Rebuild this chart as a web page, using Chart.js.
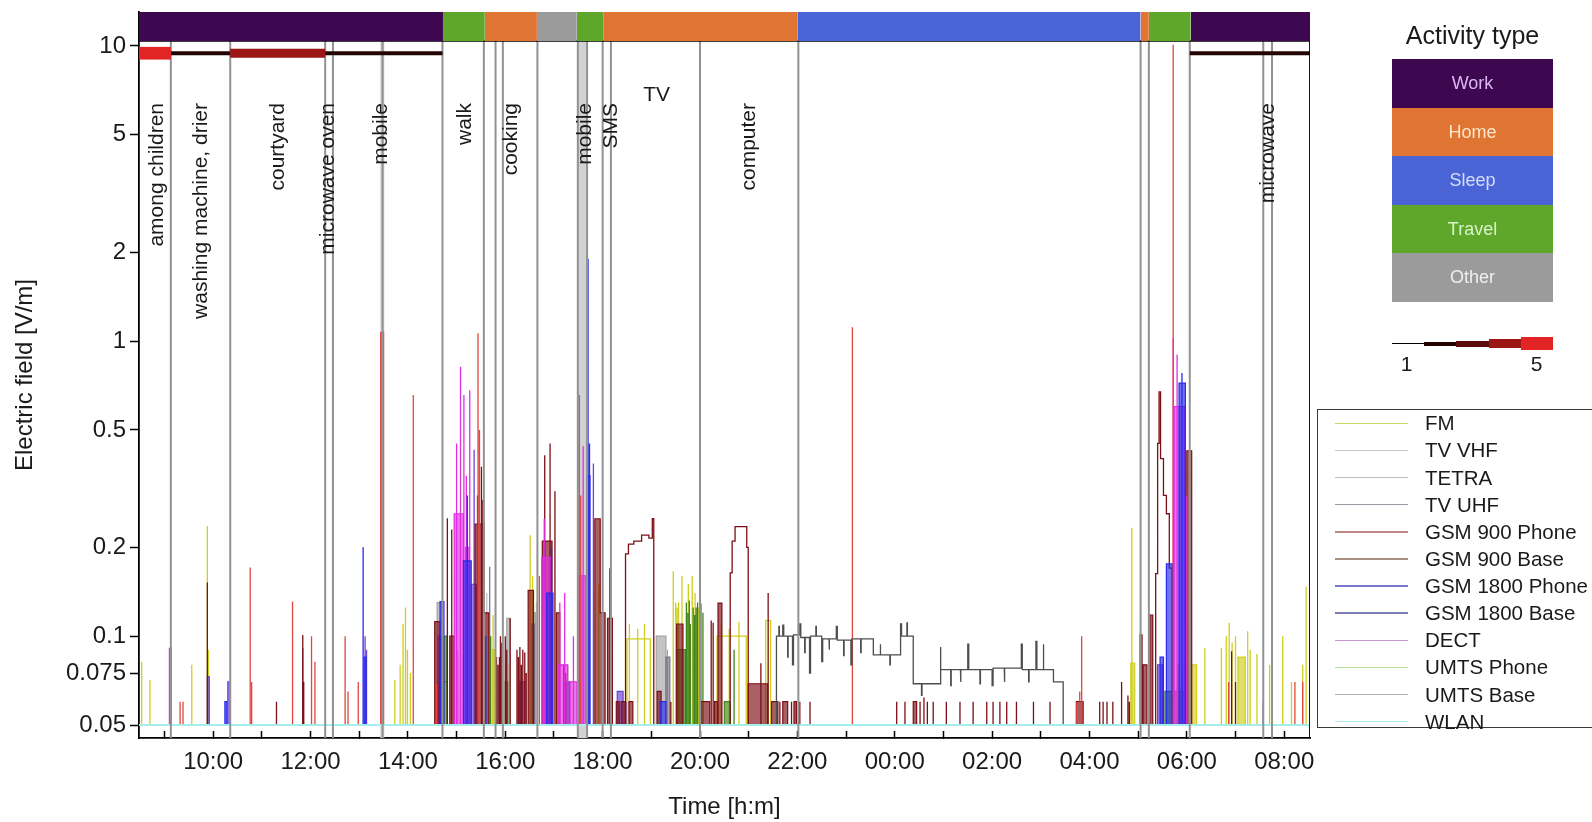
<!DOCTYPE html>
<html lang="en">
<head>
<meta charset="utf-8">
<title>Electric field over one day</title>
<script src="https://cdn.jsdelivr.net/npm/chart.js@4.4.1/dist/chart.umd.min.js"></script>
<style>
  html, body { margin: 0; padding: 0; background: #ffffff; overflow: hidden; }
  #wrap { position: relative; width: 1592px; height: 822px; font-family: "Liberation Sans", Arial, sans-serif; color: #1a1a1a; }
  #chartBox { position: absolute; left: 0; top: 0; width: 1592px; height: 822px; }
  .actTitle { position: absolute; left: 1382px; top: 20px; width: 181px; text-align: center; font-size: 25px; line-height: 30px; }
  .actRow { position: absolute; left: 1391.7px; width: 161.6px; height: 48.5px; line-height: 48.5px; text-align: center; font-size: 18px; }
  .wSeg { position: absolute; }
  .wLbl { position: absolute; top: 352px; width: 24px; margin-left: -12px; text-align: center; font-size: 21px; line-height: 24px; }
  .serBox { position: absolute; left: 1316.7px; top: 409.3px; width: 320px; height: 317px; border: 1.5px solid #3a3a3a; }
  .serLine { position: absolute; left: 1335px; width: 73.3px; height: 1.5px; }
  .serTxt { position: absolute; left: 1425px; font-size: 20.5px; line-height: 24px; white-space: nowrap; }
</style>
</head>
<body>
<div id="wrap">
  <div id="chartBox"><canvas id="field"></canvas></div>
  <div id="legend"></div>
</div>
<script>
const FONT = '"Liberation Sans", Arial, sans-serif';

// axes (hours counted from midnight of the first day)
const T_START = 8.476;
const T_END = 32.53;
const Y_MIN = 0.04519;
const Y_MAX = 13.036;
const BASE = 0.05;
const BAND_LOW = 10.4;
const hourTicks = [9, 10, 11, 12, 13, 14, 15, 16, 17, 18, 19, 20, 21, 22, 23, 24, 25, 26, 27, 28, 29, 30, 31, 32];
const yTicks = [0.05, 0.075, 0.1, 0.2, 0.5, 1, 2, 5, 10];

// activity band on top
const activityTypes = ["Work", "Home", "Sleep", "Travel", "Other"];
const activityColors = ["#3d0850", "#e07432", "#4a64d6", "#5ea72b", "#9b9b9b"];
const activityTextColors = ["#dcb6f2", "#ffe5cc", "#d4defc", "#d9f3c8", "#efefef"];
const activityStart = [8.476, 14.72, 15.58, 16.65, 17.47, 18.01, 22.01, 29.05, 29.22, 30.08];
const activityEnd = [14.72, 15.58, 16.65, 17.47, 18.01, 22.01, 29.05, 29.22, 30.08, 32.53];
const activityKind = ["Work", "Travel", "Home", "Other", "Travel", "Home", "Sleep", "Home", "Travel", "Work"];

// work intensity (1..5) drawn as a thick line under the band
const intensityWidths = [1.3, 4, 6, 9, 12.7];
const intensityColors = ["#000000", "#220404", "#5c0a0a", "#9c1616", "#e22424"];
const intensityStart = [8.476, 9.13, 10.35, 12.30, 30.06];
const intensityEnd = [9.13, 10.35, 12.30, 14.71, 32.53];
const intensityLevel = [5, 2, 4, 2, 2];
const intensityY = 9.45;

// diary events
const eventTimes = [9.13, 10.35, 12.30, 12.46, 13.48, 14.71, 15.56, 15.80, 15.95, 16.66, 17.49, 17.68, 18.00, 18.17, 20.00, 22.02, 29.05, 29.22, 30.06, 31.57, 31.75];
const shadeStart = [13.43, 17.49];
const shadeEnd = [13.52, 17.68];
const noteText = ["among children", "washing machine, drier", "courtyard", "microwave oven", "mobile", "walk", "cooking", "mobile", "SMS", "computer", "microwave"];
const noteTime = [8.84, 9.76, 11.34, 12.36, 13.46, 15.17, 16.13, 17.64, 18.18, 21.02, 31.67];
const noteTop = 6.41;
const tvTime = 19.11;
const tvValue = 6.82;

// series: [t, v] spike, [t0, t1, v] held level, [t0, t1, v, 1] dense block
const seriesNames = ["FM", "TV VHF", "TETRA", "TV UHF", "GSM 900 Phone", "GSM 900 Base", "GSM 1800 Phone", "GSM 1800 Base", "DECT", "UMTS Phone", "UMTS Base", "WLAN"];
const seriesColors = ["#cfcf1f", "#c4c4cc", "#a4a4a4", "#7e7488", "#e2463f", "#7d0f16", "#2b2bea", "#6b42d4", "#e22ee2", "#3f8420", "#4e4e4e", "#a6eeee"];
const legendColors = ["#cdd66a", "#c9c9d2", "#bcbcbc", "#9c9aa6", "#c28686", "#a88e80", "#7878cc", "#7d7db8", "#c49ad0", "#b3de98", "#b0b0b0", "#a8eeee"];

const fm = [
  [8.53, 0.082], [8.70, 0.071], [9.56, 0.080], [9.88, 0.236], [9.90, 0.090], [13.73, 0.071], [13.84, 0.080],
  [13.90, 0.110], [13.95, 0.125], [13.99, 0.090], [14.05, 0.075], [14.70, 0.080], [15.02, 0.090],
  [15.74, 15.79, 0.090, 1], [15.75, 0.118], [16.05, 0.080], [16.51, 0.220], [16.56, 0.160], [17.92, 0.150],
  [18.15, 0.166], [18.18, 0.120], [18.50, 18.98, 0.098], [18.55, 0.110], [18.72, 0.106], [18.86, 0.110],
  [19.45, 0.166], [19.50, 0.130], [19.53, 0.125], [19.56, 0.130], [19.63, 0.160], [19.76, 0.150], [19.84, 0.160],
  [19.90, 0.140], [19.94, 0.120], [19.97, 0.125], [20.35, 20.95, 0.100], [20.44, 0.110], [20.60, 0.106],
  [20.80, 0.112], [21.35, 21.45, 0.113], [28.87, 0.233], [28.85, 28.93, 0.081, 1], [29.97, 0.090],
  [30.10, 30.20, 0.080, 1], [30.37, 0.091], [30.71, 0.091], [30.81, 0.100], [30.87, 0.111], [30.93, 0.095],
  [31.00, 0.100], [31.05, 31.20, 0.085, 1], [31.25, 0.104], [31.30, 0.090], [31.44, 0.087], [31.70, 0.080],
  [31.97, 0.100], [32.15, 0.070], [32.38, 0.080], [32.45, 0.147]
];
const tvVhf = [[15.62, 0.140], [16.64, 0.130]];
const tetra = [[14.60, 14.70, 0.130, 1], [16.03, 16.10, 0.115, 1], [16.58, 16.62, 0.120, 1], [19.10, 19.30, 0.100, 1], [19.33, 0.090]];
const tvUhf = [[15.68, 0.172], [16.55, 16.60, 0.110, 1], [19.30, 19.38, 0.085, 1]];
const gsm900Phone = [
  [9.32, 0.060], [9.38, 0.060], [10.76, 0.171], [10.79, 0.070], [11.63, 0.131], [12.02, 0.100], [12.09, 0.082],
  [12.71, 0.100], [12.77, 0.065], [12.98, 0.070], [13.44, 13.50, 1.07, 1], [14.11, 0.657], [14.59, 0.069],
  [15.44, 1.063], [15.47, 0.500], [16.70, 0.160], [17.52, 0.657], [17.55, 0.300], [23.13, 1.114],
  [27.74, 0.060], [27.80, 0.065], [27.84, 0.100], [29.72, 10.1], [30.86, 0.070], [32.22, 0.070], [32.38, 0.070]
];
const gsm900Base = [
  [9.88, 0.152], [11.30, 0.060], [11.84, 0.101], [11.86, 0.070],
  [14.55, 14.66, 0.112, 1], [14.81, 0.251], [14.90, 0.230], [14.86, 14.95, 0.100, 1],
  [15.38, 15.56, 0.240, 1], [15.43, 0.300], [15.51, 0.375], [15.54, 0.290], [15.56, 15.66, 0.120, 1],
  [15.82, 0.085], [15.85, 0.080], [15.88, 0.085], [15.90, 0.100], [15.93, 0.095], [16.00, 0.100], [16.03, 0.090],
  [16.10, 0.115], [16.24, 0.090], [16.27, 0.085], [16.30, 0.092], [16.33, 0.080], [16.36, 0.090], [16.40, 0.088],
  [16.43, 0.075], [16.47, 16.58, 0.143, 1], [16.76, 16.96, 0.210, 1], [16.81, 0.410], [16.92, 0.450],
  [17.02, 0.310], [17.05, 17.12, 0.120, 1], [17.20, 0.080], [17.24, 0.075], [17.28, 0.080], [17.84, 17.95, 0.250, 1],
  [17.95, 18.05, 0.120, 1], [18.10, 18.20, 0.115, 1], [18.15, 0.170], [18.28, 18.34, 0.060, 1],
  [18.38, 18.46, 0.060, 1], [18.54, 18.62, 0.060, 1],
  [18.47, 18.53, 0.190], [18.53, 18.64, 0.205], [18.64, 18.80, 0.210], [18.80, 18.95, 0.220], [18.95, 19.02, 0.215], [19.02, 19.05, 0.250],
  [19.12, 19.20, 0.065, 1], [19.40, 0.060], [19.52, 19.65, 0.110, 1], [20.00, 20.20, 0.060, 1], [20.23, 0.113],
  [20.27, 0.111], [20.30, 20.36, 0.060, 1], [20.37, 20.45, 0.1295, 1],
  [20.62, 20.66, 0.164], [20.66, 20.72, 0.210], [20.72, 20.96, 0.235], [20.96, 20.99, 0.200],
  [20.99, 21.39, 0.069, 1], [21.25, 0.081], [21.40, 0.140], [21.47, 21.60, 0.060, 1], [21.64, 0.060],
  [21.70, 21.80, 0.060, 1], [21.88, 0.060], [21.93, 21.98, 0.060, 1], [22.05, 0.060], [22.26, 0.060],
  [24.04, 0.060], [24.21, 0.060], [24.38, 24.45, 0.060, 1], [24.52, 0.060], [24.60, 0.062], [24.67, 0.060],
  [24.79, 0.060], [25.06, 0.060], [25.34, 0.060], [25.61, 0.060], [25.89, 0.060], [26.02, 0.060],
  [26.16, 0.060], [26.30, 0.060], [26.50, 0.060], [26.85, 0.060], [27.19, 0.060], [27.73, 27.87, 0.060, 1],
  [28.21, 0.060], [28.28, 0.060], [28.36, 0.060], [28.48, 0.060], [28.66, 0.070], [28.79, 0.063], [28.82, 0.060],
  [29.04, 29.08, 0.101, 1], [29.10, 29.18, 0.080, 1], [29.24, 29.30, 0.118, 1],
  [29.36, 29.40, 0.163], [29.40, 29.43, 0.450], [29.43, 29.46, 0.673], [29.46, 29.52, 0.400], [29.52, 29.58, 0.300],
  [29.58, 29.64, 0.260], [29.64, 29.70, 0.170], [30.00, 30.10, 0.425, 1], [30.92, 0.089], [31.00, 0.070]
];
const gsm1800Phone = [
  [10.24, 10.28, 0.060, 1], [13.08, 0.200], [13.10, 13.14, 0.085, 1], [14.66, 14.74, 0.131, 1],
  [15.14, 15.30, 0.180, 1], [15.22, 0.300], [15.60, 0.100], [16.85, 16.98, 0.140, 1], [16.95, 0.200],
  [17.68, 17.74, 0.350, 1], [17.70, 1.90], [17.73, 0.450], [19.18, 19.30, 0.060, 1],
  [29.45, 29.52, 0.085, 1], [29.58, 29.70, 0.176, 1], [29.84, 29.97, 0.720, 1], [29.90, 0.780], [31.57, 0.060]
];
const gsm1800Base = [
  [9.88, 9.92, 0.073, 1], [10.30, 10.35, 0.070, 1], [11.84, 0.091], [13.12, 0.100], [13.15, 0.090],
  [14.62, 14.70, 0.100, 1], [15.30, 15.41, 0.150, 1], [15.36, 0.428], [16.30, 16.40, 0.070, 1],
  [17.25, 17.32, 0.070, 1], [17.81, 0.385], [18.30, 18.42, 0.065, 1], [18.48, 0.060], [29.40, 29.50, 0.080, 1]
];
const dect = [
  [9.10, 9.14, 0.091, 1], [14.95, 15.14, 0.260, 1], [15.00, 0.450], [15.08, 0.819], [15.15, 0.657],
  [15.18, 15.26, 0.200, 1], [15.20, 0.350], [15.27, 0.682], [16.75, 16.95, 0.185, 1], [16.80, 0.250],
  [17.12, 0.130], [17.22, 0.140], [17.08, 17.28, 0.080, 1], [17.33, 17.47, 0.070, 1], [17.40, 0.100],
  [17.50, 17.66, 0.160, 1], [17.60, 0.440], [29.72, 1.02], [29.74, 29.95, 0.600, 1], [29.80, 0.900], [30.00, 0.300]
];
const umtsPhone = [
  [14.62, 14.80, 0.070, 1], [14.74, 14.80, 0.100, 1], [15.70, 0.100], [16.00, 16.05, 0.070, 1],
  [19.52, 19.70, 0.090, 1], [19.72, 0.130], [19.75, 0.120], [19.78, 0.132], [19.80, 0.110], [19.86, 0.125],
  [19.89, 0.118], [19.92, 0.125], [19.95, 0.130], [20.02, 0.129], [20.06, 0.120],
  [20.50, 20.62, 0.060, 1], [20.70, 0.090], [29.55, 29.95, 0.065, 1], [29.82, 0.080]
];
const umtsBase = [
  [21.57, 21.62, 0.100], [21.62, 21.63, 0.108], [21.63, 21.70, 0.100], [21.70, 21.72, 0.109], [21.72, 21.80, 0.100],
  [21.80, 21.81, 0.085], [21.81, 21.90, 0.100], [21.90, 21.92, 0.080], [21.92, 22.05, 0.101], [22.05, 22.07, 0.110],
  [22.07, 22.15, 0.099], [22.15, 22.16, 0.088], [22.16, 22.25, 0.099], [22.25, 22.27, 0.075], [22.27, 22.38, 0.100],
  [22.38, 22.39, 0.108], [22.39, 22.50, 0.100], [22.50, 22.52, 0.082], [22.52, 22.65, 0.098], [22.65, 22.66, 0.090],
  [22.66, 22.80, 0.098], [22.80, 22.82, 0.108], [22.82, 22.95, 0.097], [22.95, 22.96, 0.086], [22.96, 23.10, 0.097],
  [23.10, 23.12, 0.080], [23.12, 23.30, 0.098], [23.30, 23.31, 0.088], [23.31, 23.56, 0.098], [23.56, 23.70, 0.0865],
  [23.70, 23.71, 0.094], [23.71, 23.90, 0.0865], [23.90, 23.91, 0.080], [23.91, 24.12, 0.0865], [24.12, 24.14, 0.110],
  [24.14, 24.25, 0.100], [24.25, 24.26, 0.111], [24.26, 24.38, 0.100], [24.38, 24.55, 0.069], [24.55, 24.56, 0.063],
  [24.56, 24.93, 0.069], [24.93, 24.95, 0.092], [24.95, 25.15, 0.077], [25.15, 25.16, 0.068], [25.16, 25.35, 0.077],
  [25.35, 25.36, 0.070], [25.36, 25.50, 0.077], [25.50, 25.52, 0.094], [25.52, 25.75, 0.077], [25.75, 25.76, 0.069],
  [25.76, 26.00, 0.077], [26.00, 26.02, 0.068], [26.02, 26.25, 0.078], [26.25, 26.26, 0.070], [26.26, 26.60, 0.078],
  [26.60, 26.62, 0.094], [26.62, 26.75, 0.077], [26.75, 26.76, 0.070], [26.76, 26.90, 0.077], [26.90, 26.92, 0.096],
  [26.92, 27.05, 0.077], [27.05, 27.06, 0.094], [27.06, 27.26, 0.077], [27.26, 27.46, 0.070]
];
const wlan = [];
const seriesData = [fm, tvVhf, tetra, tvUhf, gsm900Phone, gsm900Base, gsm1800Phone, gsm1800Base, dect, umtsPhone, umtsBase, wlan];
const seriesOrder = [60, 59, 58, 57, 51, 54, 52, 55, 53, 56, 50, 49];

function toTrace(entries) {
  let pts = [{ x: T_START, y: BASE }];
  let lastEnd = null;
  entries.slice().sort((a, b) => a[0] - b[0]).forEach((e) => {
    const t0 = e[0];
    const t1 = e.length > 2 ? e[1] : e[0];
    const v = e.length > 2 ? e[2] : e[1];
    if (lastEnd !== null && Math.abs(lastEnd - t0) < 1e-9) pts.pop();
    else pts.push({ x: t0, y: BASE });
    pts.push({ x: t0, y: v }, { x: t1, y: v }, { x: t1, y: BASE });
    lastEnd = e.length > 2 ? t1 : null;
  });
  pts.push({ x: T_END, y: BASE });
  return pts;
}

function buildDatasets() {
  let sets = [];
  // shaded event spans
  shadeStart.forEach((s, i) => {
    sets.push({ data: [{ x: s, y: BAND_LOW }, { x: shadeEnd[i], y: BAND_LOW }], borderWidth: 0,
      backgroundColor: "#d2d2d2", fill: { value: Y_MIN }, order: 100 });
  });
  seriesData.forEach((list, i) => {
    const lines = list.filter((e) => e.length < 4);
    const blocks = list.filter((e) => e.length === 4);
    sets.push({ label: seriesNames[i], data: toTrace(lines), borderColor: seriesColors[i],
      borderWidth: i === 11 ? 2 : 1.3, fill: false, order: seriesOrder[i] });
    if (blocks.length) {
      sets.push({ data: toTrace(blocks), borderColor: seriesColors[i], borderWidth: 1.2,
        backgroundColor: seriesColors[i] + "a8", fill: { value: BASE }, order: seriesOrder[i] });
    }
  });
  // diary lines
  let ev = [];
  eventTimes.forEach((t) => {
    ev.push({ x: t, y: Y_MIN }, { x: t, y: BAND_LOW }, { x: t, y: null });
  });
  sets.push({ data: ev, borderColor: "#929292", borderWidth: 2, spanGaps: false, order: 20 });
  // work intensity
  intensityStart.forEach((s, i) => {
    const lv = intensityLevel[i] - 1;
    sets.push({ data: [{ x: s, y: intensityY }, { x: intensityEnd[i], y: intensityY }],
      borderColor: intensityColors[lv], borderWidth: intensityWidths[lv], borderCapStyle: "butt", order: 15 });
  });
  // frame top and right
  sets.push({ data: [{ x: T_END, y: Y_MIN }, { x: T_END, y: BAND_LOW }, { x: T_START, y: BAND_LOW }],
    borderColor: "#000000", borderWidth: 1.8, order: 12 });
  // activity band
  activityStart.forEach((s, i) => {
    const c = activityColors[activityTypes.indexOf(activityKind[i])];
    sets.push({ data: [{ x: s, y: Y_MAX }, { x: activityEnd[i], y: Y_MAX }], borderWidth: 0,
      backgroundColor: c, fill: { value: BAND_LOW }, order: 10 });
  });
  return sets;
}

const notesPlugin = {
  id: "notes",
  afterDatasetsDraw(chart) {
    const { ctx } = chart;
    const x = chart.scales.x;
    const y = chart.scales.y;
    ctx.save();
    ctx.fillStyle = "#1a1a1a";
    ctx.font = "21px " + FONT;
    noteText.forEach((txt, i) => {
      ctx.save();
      ctx.translate(x.getPixelForValue(noteTime[i]), y.getPixelForValue(noteTop));
      ctx.rotate(-Math.PI / 2);
      ctx.textAlign = "right";
      ctx.textBaseline = "middle";
      ctx.fillText(txt, 0, 0);
      ctx.restore();
    });
    ctx.textAlign = "center";
    ctx.textBaseline = "middle";
    ctx.fillText("TV", x.getPixelForValue(tvTime), y.getPixelForValue(tvValue));
    ctx.restore();
  },
};

function hourLabel(v) {
  if (v % 2 !== 0) return "";
  return String(v % 24).padStart(2, "0") + ":00";
}

new Chart(document.getElementById("field"), {
  type: "line",
  data: { datasets: buildDatasets() },
  plugins: [notesPlugin],
  options: {
    responsive: true,
    maintainAspectRatio: false,
    animation: false,
    layout: { padding: { left: 0, top: 12, right: 282, bottom: 0 } },
    elements: { point: { radius: 0, hoverRadius: 0 }, line: { tension: 0 } },
    plugins: { legend: { display: false }, tooltip: { enabled: false } },
    scales: {
      x: {
        type: "linear",
        min: T_START,
        max: T_END,
        afterBuildTicks: (s) => { s.ticks = hourTicks.map((v) => ({ value: v })); },
        afterFit: (s) => { s.height = 84; s.paddingLeft = 0; s.paddingRight = 0; },
        // negative tick length turns the marks inward like the original
        ticks: { autoSkip: false, maxRotation: 0, padding: 17, color: "#1a1a1a",
          font: { size: 24, family: FONT }, callback: hourLabel },
        grid: { drawOnChartArea: false, drawTicks: true, tickLength: -7, color: "#000000", tickWidth: 1.5 },
        border: { display: true, color: "#000000", width: 1.8 },
        title: { display: true, text: "Time [h:m]", color: "#1a1a1a", font: { size: 24, family: FONT },
          padding: { top: 0, bottom: 0 } },
      },
      y: {
        type: "logarithmic",
        min: Y_MIN,
        max: Y_MAX,
        afterBuildTicks: (s) => { s.ticks = yTicks.map((v) => ({ value: v })); },
        afterFit: (s) => { s.width = 139; s.paddingTop = 0; s.paddingBottom = 0; },
        ticks: { autoSkip: false, padding: 4, color: "#1a1a1a", font: { size: 24, family: FONT },
          callback: (v) => String(v) },
        grid: { drawOnChartArea: false, drawTicks: true, tickLength: 9, color: "#000000", tickWidth: 1.5 },
        border: { display: true, color: "#000000", width: 1.8 },
        title: { display: true, text: "Electric field [V/m]", color: "#1a1a1a", font: { size: 24, family: FONT },
          padding: { top: 10.6, bottom: 0 } },
      },
    },
  },
});

// legends (html)
function legend() {
  let html = `<div class="actTitle">Activity type</div>`;
  activityTypes.forEach((a, i) => {
    html += `<div class="actRow" style="top:${59.3 + i * 48.5}px;background:${activityColors[i]};color:${activityTextColors[i]}">${a}</div>`;
  });
  intensityWidths.forEach((w, i) => {
    html += `<div class="wSeg" style="left:${1392 + i * 32.2}px;width:32.2px;top:${343.7 - w / 2}px;height:${w}px;background:${intensityColors[i]}"></div>`;
  });
  html += `<div class="wLbl" style="left:1406.7px">1</div><div class="wLbl" style="left:1536.7px">5</div>`;
  html += `<div class="serBox"></div>`;
  seriesNames.forEach((n, i) => {
    const yc = 423.3 + i * 27.13;
    html += `<div class="serLine" style="top:${yc - 0.75}px;background:${legendColors[i]}"></div>`;
    html += `<div class="serTxt" style="top:${yc - 12}px">${n}</div>`;
  });
  document.getElementById("legend").innerHTML = html;
}
legend();
</script>
</body>
</html>
